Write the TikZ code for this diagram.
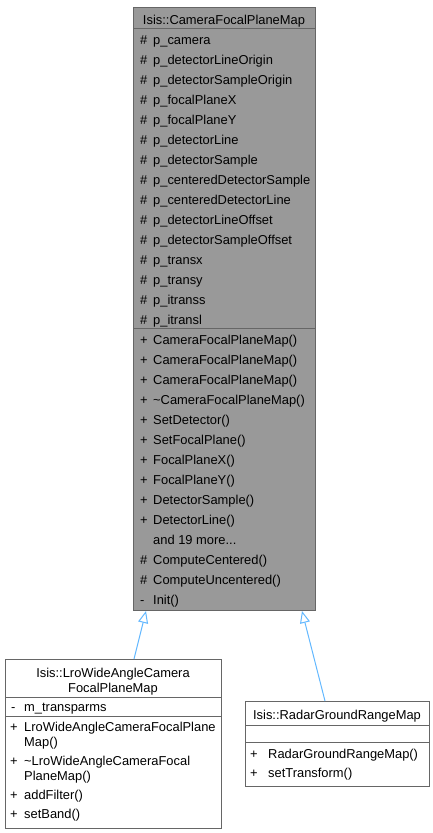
\documentclass[tikz,border=0pt]{standalone}
\usepackage{fontspec}
\setmainfont{Liberation Sans}
\usetikzlibrary{arrows.meta}
\definecolor{edgeblue}{HTML}{63B8FF}
\definecolor{boxline}{HTML}{666666}
\definecolor{mainfill}{HTML}{999999}
\newcommand\dxfont{\fontsize{12.9}{15}\selectfont}
\newcommand\dxmore{and 19 more...}
\tikzset{
  classbox/.style={draw=boxline, line width=1pt, fill=white, inner sep=0pt, anchor=north west},
  mainbox/.style={classbox, fill=mainfill},
  sepline/.style={draw=boxline, line width=1pt},
  lbl/.style={anchor=base west, inner sep=0pt, font=\dxfont},
  ttl/.style={anchor=base, inner sep=0pt, font=\dxfont},
  inherit/.style={draw=edgeblue, line width=1pt, -{Triangle[length=12pt,width=10pt,fill=white]}}
}
\begin{document}
\begin{tikzpicture}[x=1pt,y=-1pt]
\useasboundingbox (0,0) rectangle (432,833);

% ---------- main class ----------
\node[mainbox, minimum width=182pt, minimum height=603pt] (main) at (133,7) {};
\draw[sepline] (133,28.5) -- (315,28.5);
\draw[sepline] (133,328) -- (315,328);
\node[ttl] (maintitle) at (224,24) {Isis::CameraFocalPlaneMap};

\foreach \t [count=\i from 0] in {p\_camera, p\_detectorLineOrigin, p\_detectorSampleOrigin,
  p\_focalPlaneX, p\_focalPlaneY, p\_detectorLine, p\_detectorSample,
  p\_centeredDetectorSample, p\_centeredDetectorLine, p\_detectorLineOffset,
  p\_detectorSampleOffset, p\_transx, p\_transy, p\_itranss, p\_itransl}{
  \node[lbl] (attrsym\i) at (140,44+20*\i) {\#};
  \node[lbl] (attr\i) at (153,44+20*\i) {\t};
}

\foreach \s/\t [count=\i from 0] in {+/CameraFocalPlaneMap(), +/CameraFocalPlaneMap(),
  +/CameraFocalPlaneMap(), +/\textasciitilde CameraFocalPlaneMap(), +/SetDetector(),
  +/SetFocalPlane(), +/FocalPlaneX(), +/FocalPlaneY(), +/DetectorSample(),
  +/DetectorLine(), {}/\dxmore, \#/ComputeCentered(), \#/ComputeUncentered(), -/Init()}{
  \node[lbl] (methsym\i) at (140,344+20*\i) {\s};
  \node[lbl] (meth\i) at (153,344+20*\i) {\t};
}

% ---------- LroWideAngleCameraFocalPlaneMap ----------
\node[classbox, minimum width=216pt, minimum height=169pt] (lro) at (5,659) {};
\draw[sepline] (5,697) -- (221,697);
\draw[sepline] (5,716) -- (221,716);
\node[ttl] (lrotitleA) at (113,677) {Isis::LroWideAngleCamera};
\node[ttl] (lrotitleB) at (113,692) {FocalPlaneMap};
\node[lbl] (lroasym) at (11,711) {-};
\node[lbl] (lroattr) at (24,711) {m\_transparms};
\node[lbl] (lrosym1) at (10,731) {+};
\node[lbl] (lrom1a) at (24,731) {LroWideAngleCameraFocalPlane};
\node[lbl] (lrom1b) at (24,746) {Map()};
\node[lbl] (lrosym2) at (10,765) {+};
\node[lbl] (lrom2a) at (24,765) {\textasciitilde LroWideAngleCameraFocal};
\node[lbl] (lrom2b) at (24,780) {PlaneMap()};
\node[lbl] (lrosym3) at (10,799) {+};
\node[lbl] (lrom3) at (24,799) {addFilter()};
\node[lbl] (lrosym4) at (10,818.5) {+};
\node[lbl] (lrom4) at (24,818.5) {setBand()};

% ---------- RadarGroundRangeMap ----------
\node[classbox, minimum width=184pt, minimum height=85pt] (radar) at (245,701) {};
\draw[sepline] (245,725) -- (429,725);
\draw[sepline] (245,742.5) -- (429,742.5);
\node[ttl] (radartitle) at (337,719) {Isis::RadarGroundRangeMap};
\node[lbl] (radsym1) at (250,758) {+};
\node[lbl] (radm1) at (268,758) {RadarGroundRangeMap()};
\node[lbl] (radsym2) at (250,777.5) {+};
\node[lbl] (radm2) at (268,777.5) {setTransform()};

% ---------- inheritance connectors ----------
\coordinate (lrotop) at (134,659);
\coordinate (mainbotA) at (146,611);
\coordinate (radartop) at (325,701);
\coordinate (mainbotB) at (302,611);
\draw[inherit] (lrotop) -- (mainbotA);
\draw[inherit] (radartop) -- (mainbotB);
\end{tikzpicture}
\end{document}
